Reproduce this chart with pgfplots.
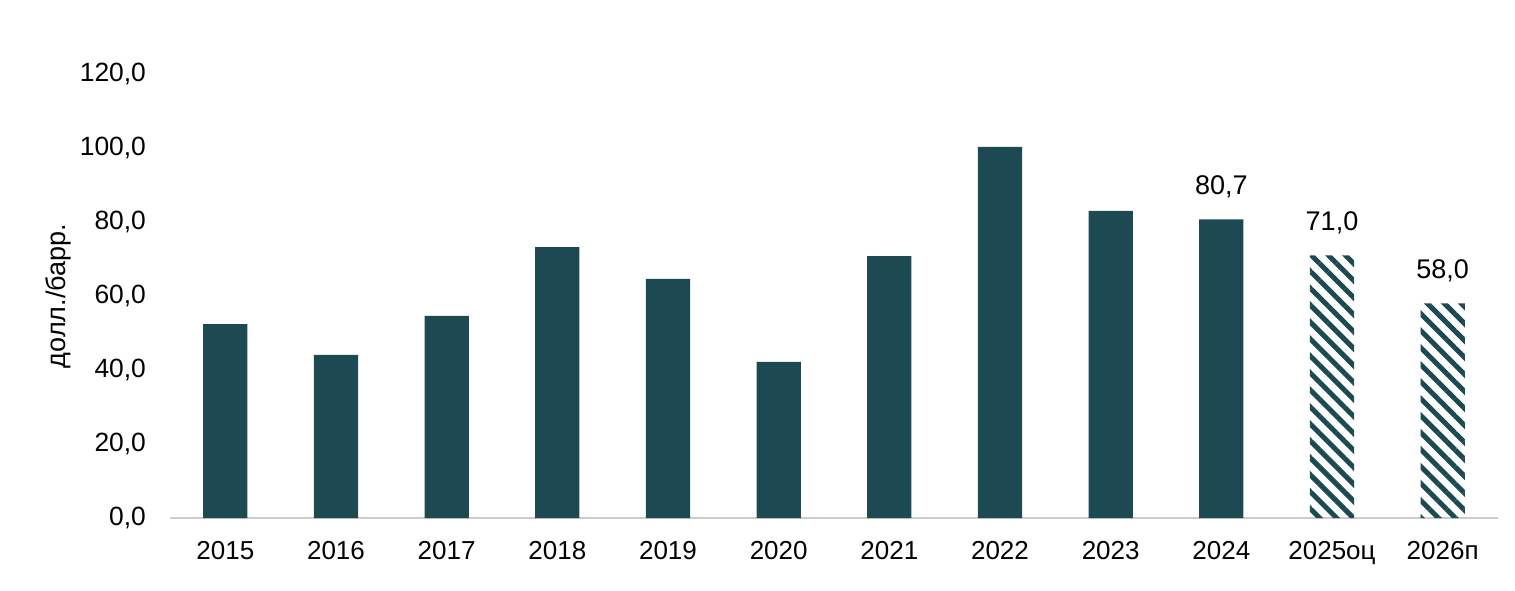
\documentclass[border=0pt]{standalone}
\usepackage{pgfplots}
\pgfplotsset{compat=1.18}
\usepackage{fontspec}
\setmainfont{Liberation Sans}
\usetikzlibrary{patterns.meta}
\definecolor{teal}{RGB}{29,74,82}
\begin{document}
\begin{tikzpicture}
\path[use as bounding box] (-85pt,-36pt) rectangle (672.5pt,259pt);
\begin{axis}[
  at={(0,0)}, anchor=south west,
  scale only axis, width=664pt, height=222pt,
  xmin=-0.5, xmax=11.5, ymin=0, ymax=120,
  axis lines*=left,
  axis line style={draw=none},
  ytick={0,20,...,120},
  xtick={0,...,11},
  xticklabels={2015,2016,2017,2018,2019,2020,2021,2022,2023,2024,2025оц,2026п},
  major tick length=0pt,
  yticklabel style={font=\fontsize{13.2}{15}\selectfont, xshift=-8.5pt},
  xticklabel style={font=\fontsize{13}{16}\selectfont, yshift=-8pt},
  /pgf/number format/.cd, fixed, fixed zerofill, precision=1, use comma, assume math mode=true,
  /pgfplots/.cd,
  ylabel={долл./барр.},
  every axis y label/.style={at={(axis description cs:0,0.5)}, xshift=-56pt, rotate=90, anchor=center, font=\fontsize{13.5}{15}\selectfont},
  clip=false,
]
\draw[gray!40, line width=0.8pt] (axis cs:-0.5,0) -- (axis cs:11.5,0);
\addplot[ybar, bar width=0.4, fill=teal, draw=none] coordinates {
(0,52.4) (1,44.1) (2,54.6) (3,73.2) (4,64.6) (5,42.2) (6,70.8) (7,100.3) (8,83.0) (9,80.7)};
\addplot[ybar, bar width=0.4, draw=none, pattern={Lines[angle=-45, distance=6pt, line width=2.5pt]}, pattern color=teal] coordinates {
(10,71.0) (11,58.0)};
\node[font=\fontsize{13.5}{15}\selectfont, anchor=south] at (axis cs:9,80.7) [yshift=7pt] {80,7};
\node[font=\fontsize{13.5}{15}\selectfont, anchor=south] at (axis cs:10,71.0) [yshift=7pt] {71,0};
\node[font=\fontsize{13.5}{15}\selectfont, anchor=south] at (axis cs:11,58.0) [yshift=7pt] {58,0};
\end{axis}
\end{tikzpicture}
\end{document}
